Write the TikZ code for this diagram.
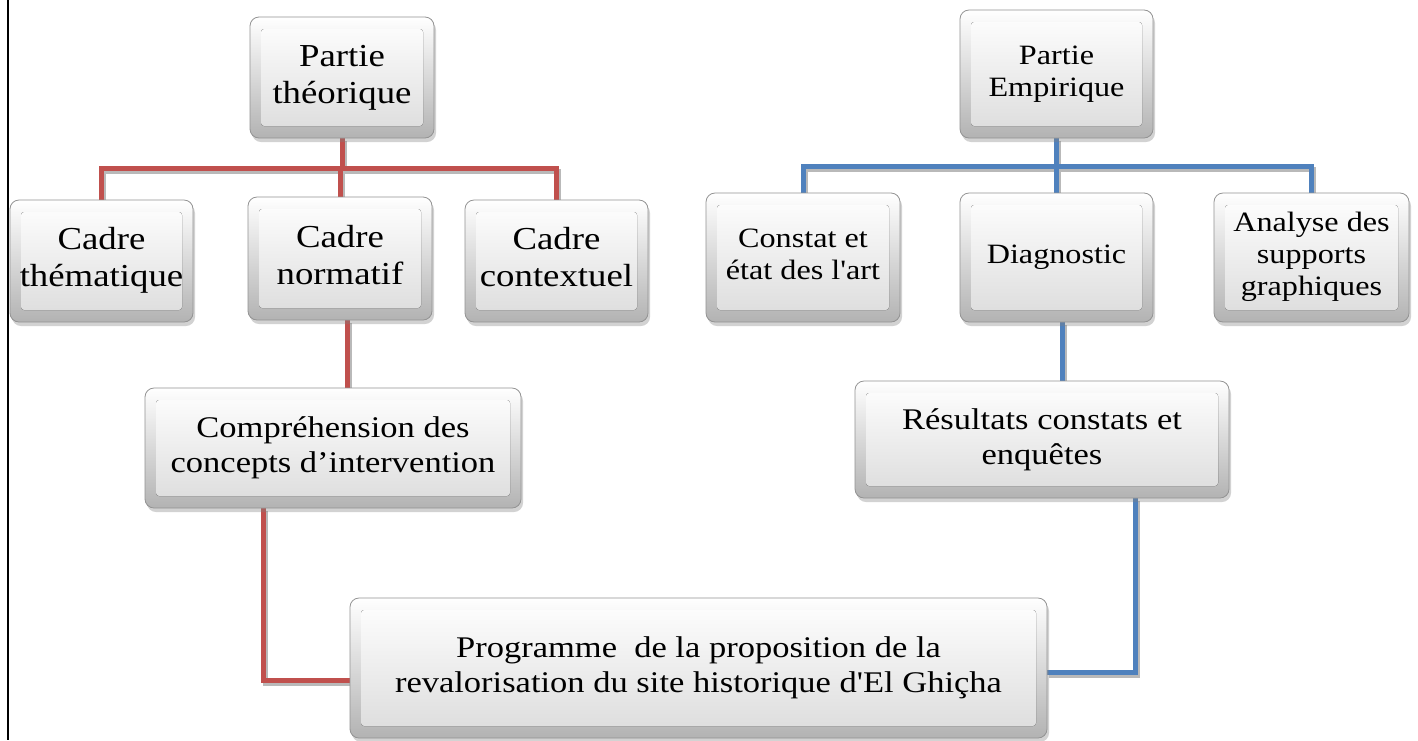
\documentclass[tikz,border=0pt]{standalone}
\usepackage{fontspec}
\setmainfont{Liberation Serif}
\usepackage{textcomp}
\usepackage{graphicx}
\usetikzlibrary{shadows,backgrounds}
\definecolor{lred}{HTML}{C0504D}
\definecolor{lblue}{HTML}{4F81BD}
\newcommand\wt[1]{\scalebox{1.15}[1]{\begin{tabular}{@{}c@{}}#1\end{tabular}}}
\tikzset{
 bevel/.style={rounded corners=9pt, draw=gray!85, line width=0.8pt, top color=white, bottom color=gray!60,
   drop shadow={shadow xshift=2pt, shadow yshift=-4pt, opacity=0.35},
   align=center, inner sep=0pt, text=black,
   path picture={\fill[rounded corners=3pt, top color=white, bottom color=gray!28]
     ([shift={(11pt,-12pt)}]path picture bounding box.north west) rectangle
     ([shift={(-11pt,12pt)}]path picture bounding box.south east);}},
 big/.style={font=\fontsize{32}{37}\selectfont},
 mid/.style={font=\fontsize{30}{35}\selectfont},
 small/.style={font=\fontsize{28}{32}\selectfont},
 conn/.style={line width=5pt, preaction={draw=gray!55, line width=5pt, transform canvas={shift={(2pt,-3pt)}}}},
 redc/.style={conn, draw=lred},
 bluec/.style={conn, draw=lblue},
}
\begin{document}
\begin{tikzpicture}[x=1pt,y=-1pt]
\useasboundingbox (0,0) rectangle (1418,740);

% left branch
\node[bevel,big,minimum width=184pt,minimum height=121pt] (pt) at (342,77.5) {\wt{Partie\\théorique}};
\node[bevel,big,minimum width=183pt,minimum height=122pt] (ct) at (101.5,261) {\wt{Cadre\\thématique}};
\node[bevel,big,minimum width=184pt,minimum height=123pt] (cn) at (340,258.5) {\wt{Cadre\\normatif}};
\node[bevel,big,minimum width=183pt,minimum height=122pt] (cc) at (556.5,261) {\wt{Cadre\\contextuel}};
\node[bevel,mid,minimum width=376pt,minimum height=120pt] (comp) at (333,448) {\wt{Compréhension des\\concepts d’intervention}};

% bottom
\node[bevel,mid,minimum width=697pt,minimum height=140pt] (prog) at (698.5,668) {\wt{Programme~ de la proposition de la\\revalorisation du site historique d\textquotesingle El Ghiçha}};

% right branch
\node[bevel,small,minimum width=193pt,minimum height=128pt] (pe) at (1056.5,74) {\wt{Partie\\Empirique}};
\node[bevel,small,minimum width=194pt,minimum height=129pt] (cs) at (803,257.5) {\wt{Constat et\\état des l\textquotesingle art}};
\node[bevel,small,minimum width=193pt,minimum height=129pt] (dg) at (1056.5,257.5) {\wt{Diagnostic}};
\node[bevel,small,minimum width=195pt,minimum height=129pt] (an) at (1311.5,257.5) {\wt{Analyse des\\supports\\graphiques}};
\node[bevel,mid,minimum width=374pt,minimum height=117pt] (res) at (1042,439.5) {\wt{Résultats constats et\\enquêtes}};

\coordinate (lbus) at (0,168);
\coordinate (rbus) at (0,166);

\begin{scope}[on background layer]
\fill[white] (0,0) rectangle (1418,740);
\draw[line width=2pt] (8,0) -- (8,740);
\draw[redc] (pt.south) -- (pt.south |- lbus);
\draw[redc] (ct.north) -- (ct.north |- lbus) -- (cc.north |- lbus) -- (cc.north);
\draw[redc] (cn.north) -- (cn.north |- lbus);
\draw[redc] ([xshift=7pt]cn.south) -- ([xshift=7pt]cn.south |- comp.north);
\draw[redc] ([xshift=-70pt]comp.south) |- ([yshift=-12pt]prog.west);

\draw[bluec] (pe.south) -- (pe.south |- rbus);
\draw[bluec] (cs.north) -- (cs.north |- rbus) -- (an.north |- rbus) -- (an.north);
\draw[bluec] (dg.north) -- (dg.north |- rbus);
\draw[bluec] ([xshift=5.5pt]dg.south) -- ([xshift=5.5pt]dg.south |- res.north);
\draw[bluec] ([xshift=93pt]res.south) |- ([yshift=-4pt]prog.east);
\end{scope}
\end{tikzpicture}
\end{document}
